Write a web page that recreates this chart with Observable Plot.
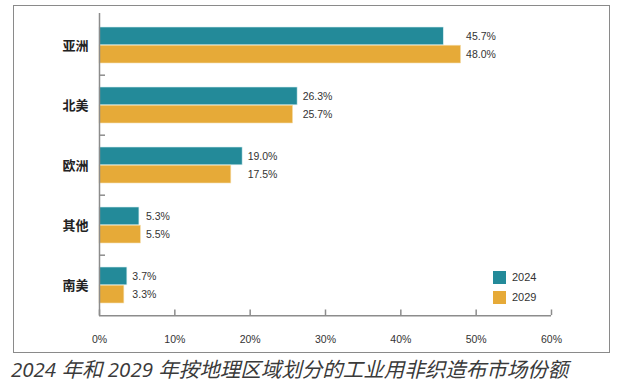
<!DOCTYPE html>
<html>
<head>
<meta charset="utf-8">
<script src="https://cdn.jsdelivr.net/npm/d3@7"></script>
<script src="https://cdn.jsdelivr.net/npm/@observablehq/plot@0.6"></script>
<style>
  html, body { margin: 0; padding: 0; background: #fff; overflow: hidden; }
  #wrap { position: relative; width: 623px; height: 391px; }
  #box { position: absolute; left: 13px; top: 5px; width: 595px; height: 346px; border: 1.5px solid #8a8a8a; }
  #chart { position: absolute; left: 0; top: 0; }
  #legend { position: absolute; left: 493px; top: 267px; font-family: "Liberation Sans", Arial, sans-serif; font-size: 11px; color: #333; }
  #legend .row { display: flex; align-items: center; height: 20px; }
  #legend .sw { width: 13px; height: 13px; margin-right: 6px; }
  #caption { position: absolute; left: 11px; top: 353px; font-family: "Open Sans", "Noto Sans CJK SC", sans-serif; font-style: italic; font-size: 20.5px; color: #3a3a3a; white-space: nowrap; }
</style>
</head>
<body>
<div id="wrap">
  <div id="box"></div>
  <div id="chart"></div>
  <div id="legend"></div>
  <div id="caption"></div>
</div>
<script>
const regions = ["亚洲", "北美", "欧洲", "其他", "南美"];
const share2024 = [45.7, 26.3, 19.0, 5.3, 3.7];
const share2029 = [48.0, 25.7, 17.5, 5.5, 3.3];
const years = ["2024", "2029"];
const xTicks = [0, 10, 20, 30, 40, 50, 60];
const colors = ["#238a99", "#e6aa38"];
const captionText = "2024 年和 2029 年按地理区域划分的工业用非织造布市场份额";

const rows = regions.map((r, i) => ({region: r, v2024: share2024[i], v2029: share2029[i]}));

const W = 623, H = 355, mt = 13, mb = 39, ml = 99, mr = 72;
const yOpts = {type: "band", domain: regions, range: [mt, H - mb], paddingInner: 0.4, paddingOuter: 0.2};
const yScale = Plot.scale({y: yOpts});
const bw = yScale.bandwidth, step = yScale.step;
const axisColor = "#8c8c8c";
const labelFont = "Liberation Sans, Arial, sans-serif";
const lastRegion = regions[regions.length - 1];
const tickLen = 6;

const chart = Plot.plot({
  width: W, height: H,
  marginTop: mt, marginBottom: mb, marginLeft: ml, marginRight: mr,
  style: {fontFamily: labelFont, background: "transparent", overflow: "visible"},
  x: {domain: [0, 60]},
  y: {domain: regions, paddingInner: 0.4, paddingOuter: 0.2, axis: null},
  marks: [
    Plot.barX(rows, {x: "v2024", y: "region", fill: colors[0], insetBottom: bw / 2, stroke: "#d7eef1", strokeWidth: 0.6}),
    Plot.barX(rows, {x: "v2029", y: "region", fill: colors[1], insetTop: bw / 2, stroke: "#f6e2b4", strokeWidth: 0.6}),
    Plot.text(rows, {x: d => Math.max(d.v2024, d.v2029), y: "region", text: d => d.v2024.toFixed(1) + "%", dy: -bw / 4, dx: 5, textAnchor: "start", fontSize: 10.5, fill: "#333"}),
    Plot.text(rows, {x: d => Math.max(d.v2024, d.v2029), y: "region", text: d => d.v2029.toFixed(1) + "%", dy: bw / 4, dx: 5, textAnchor: "start", fontSize: 10.5, fill: "#333"}),
    Plot.ruleX([0], {stroke: axisColor, strokeWidth: 1.5}),
    Plot.ruleY(regions.slice(1), {y: d => d, x1: 0, x2: 0.8, dy: -step / 2, stroke: axisColor, strokeWidth: 1.5}),
    Plot.ruleY([lastRegion], {y: d => d, x1: 0, x2: 60, dy: step / 2, stroke: axisColor, strokeWidth: 1.5}),
    Plot.tickX(xTicks, {x: d => d, y: () => lastRegion, dy: (step - bw) / 2, insetTop: bw - tickLen, stroke: axisColor, strokeWidth: 1.5}),
    Plot.axisX(xTicks, {tickSize: 0, tickPadding: 19, tickFormat: d => d + "%", fontSize: 10.5, fill: "#333", fontWeight: 500, label: null}),
    Plot.axisY(regions, {tickSize: 0, tickPadding: 11, fontSize: 13, fontWeight: "bold", fill: "#222", fontFamily: "Noto Sans CJK SC, sans-serif", label: null})
  ]
});
document.getElementById("chart").appendChild(chart);

const legend = document.getElementById("legend");
years.forEach((y, i) => {
  const row = document.createElement("div");
  row.className = "row";
  const sw = document.createElement("div");
  sw.className = "sw";
  sw.style.background = colors[i];
  const t = document.createElement("span");
  t.textContent = y;
  row.appendChild(sw); row.appendChild(t);
  legend.appendChild(row);
});
document.getElementById("caption").textContent = captionText;
</script>
</body>
</html>
